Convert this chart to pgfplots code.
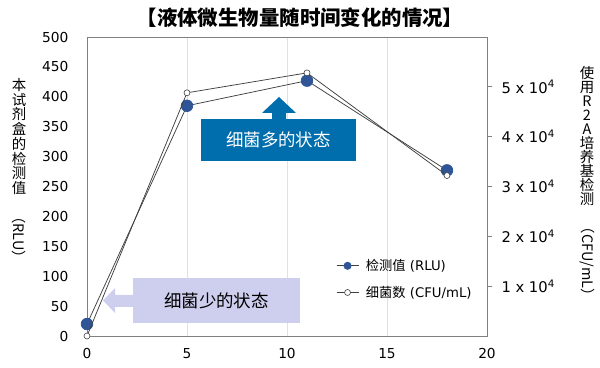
\documentclass[border=0pt]{standalone}
\usepackage{fontspec}
\setmainfont{DejaVu Sans}
\newfontfamily\cjk{Noto Sans CJK SC}
\usepackage{pgfplots}
\pgfplotsset{compat=1.18}
\definecolor{rlublue}{RGB}{47,85,151}
\definecolor{darkbox}{RGB}{0,110,172}
\definecolor{lightbox}{RGB}{206,206,238}
\definecolor{gridc}{RGB}{228,225,216}
\definecolor{framec}{RGB}{128,128,128}
\definecolor{linec}{RGB}{64,64,64}
\begin{document}
\begin{tikzpicture}
\path[use as bounding box] (-87bp,-32bp) rectangle (513bp,336bp);
\begin{axis}[
  at={(0,0)}, anchor=south west, scale only axis, width=400bp, height=299bp,
  xmin=0, xmax=20, ymin=0, ymax=500,
  xtick={0,5,10,15,20}, ytick={0,50,...,500},
  ytick pos=left, xtick pos=bottom,
  major tick length=0pt,
  xmajorgrids, major x grid style={draw=gridc, line width=0.8bp},
  axis line style={draw=framec, line width=0.9bp},
  /pgf/number format/assume math mode=true,
  tick label style={font=\fontsize{13.8}{16}\selectfont},
  yticklabel style={xshift=-15bp},
  xticklabel style={yshift=-9bp},
  clip=false,
  legend image code/.code={\draw[mark repeat=2, mark phase=2] plot coordinates {(0bp,0bp)(11bp,0bp)(22bp,0bp)};},
  legend style={at={(0.615,0.27)}, anchor=north west, draw=none, fill=none,
    font=\fontsize{13.3}{15}\selectfont, row sep=10bp,
    /tikz/every odd column/.append style={column sep=5bp}},
  legend cell align=left,
]
\addplot[linec, line width=0.75bp, mark=*, mark size=5.8bp,
  mark options={fill=rlublue, draw=rlublue}, forget plot]
  coordinates {(0,20) (5,385) (11,427) (18,277)};
\addlegendimage{linec, line width=0.75bp, mark=*, mark size=3.6bp, mark options={fill=rlublue, draw=rlublue}}
\addlegendentry{{\cjk 检测值} (RLU)}
\addlegendimage{linec, line width=0.75bp, mark=*, mark size=3bp, mark options={fill=white, draw=linec, line width=0.6bp}}
\addlegendentry{{\cjk 细菌数} (CFU/mL)}
\end{axis}
\begin{axis}[
  at={(0,0)}, anchor=south west, scale only axis, width=400bp, height=299bp,
  xmin=0, xmax=20, ymin=0, ymax=60000,
  axis x line=none, axis y line*=right,
  ytick={10000,20000,30000,40000,50000},
  yticklabels={{1 x 10\textsuperscript{4}},{2 x 10\textsuperscript{4}},{3 x 10\textsuperscript{4}},{4 x 10\textsuperscript{4}},{5 x 10\textsuperscript{4}}},
  scaled y ticks=false,
  tick align=outside, major tick length=5bp,
  tick style={draw=framec, line width=0.8bp},
  axis line style={draw=framec, line width=0.9bp},
  yticklabel style={font=\fontsize{14.8}{17}\selectfont, xshift=6bp},
  clip=false,
]
\addplot[linec, line width=0.75bp, mark=*, mark size=3bp,
  mark options={fill=white, draw=linec, line width=0.6bp}]
  coordinates {(0,0) (5,48800) (11,52800) (18,32200)};
\end{axis}
% title
\node[font=\cjk\bfseries\fontsize{20.5}{22}\selectfont] at (213bp,318bp) {【液体微生物量随时间变化的情况】};
% axis labels
\node[anchor=north, align=center, inner sep=0pt, font=\cjk\fontsize{14.5}{14.8}\selectfont]
  at (-68bp,258bp) {本\\试\\剂\\盒\\的\\检\\测\\值\\[1bp]\rotatebox{-90}{（RLU）}};
\node[anchor=north, align=center, inner sep=0pt, font=\cjk\fontsize{14.5}{14.1}\selectfont]
  at (500bp,270bp) {使\\用\\R\\2\\A\\培\\养\\基\\检\\测\\[1bp]\rotatebox{-90}{（CFU/mL）}};
% annotation: many bacteria
\fill[darkbox] (185bp,215bp) -- (185bp,223bp) -- (175bp,223bp) -- (192bp,239bp) -- (209bp,223bp) -- (199bp,223bp) -- (199bp,215bp) -- cycle;
\fill[darkbox] (114bp,175bp) rectangle (269bp,217bp);
\node[text=white, font=\cjk\fontsize{17.5}{19}\selectfont] at (191.5bp,196bp) {细菌多的状态};
% annotation: few bacteria
\fill[lightbox] (46bp,41bp) -- (28bp,41bp) -- (28bp,48bp) -- (16bp,35.5bp) -- (28bp,23bp) -- (28bp,29bp) -- (46bp,29bp) -- cycle;
\fill[lightbox] (46bp,13bp) rectangle (213bp,58bp);
\node[text=black, font=\cjk\fontsize{17.5}{19}\selectfont] at (129.5bp,35.5bp) {细菌少的状态};
\end{tikzpicture}
\end{document}
